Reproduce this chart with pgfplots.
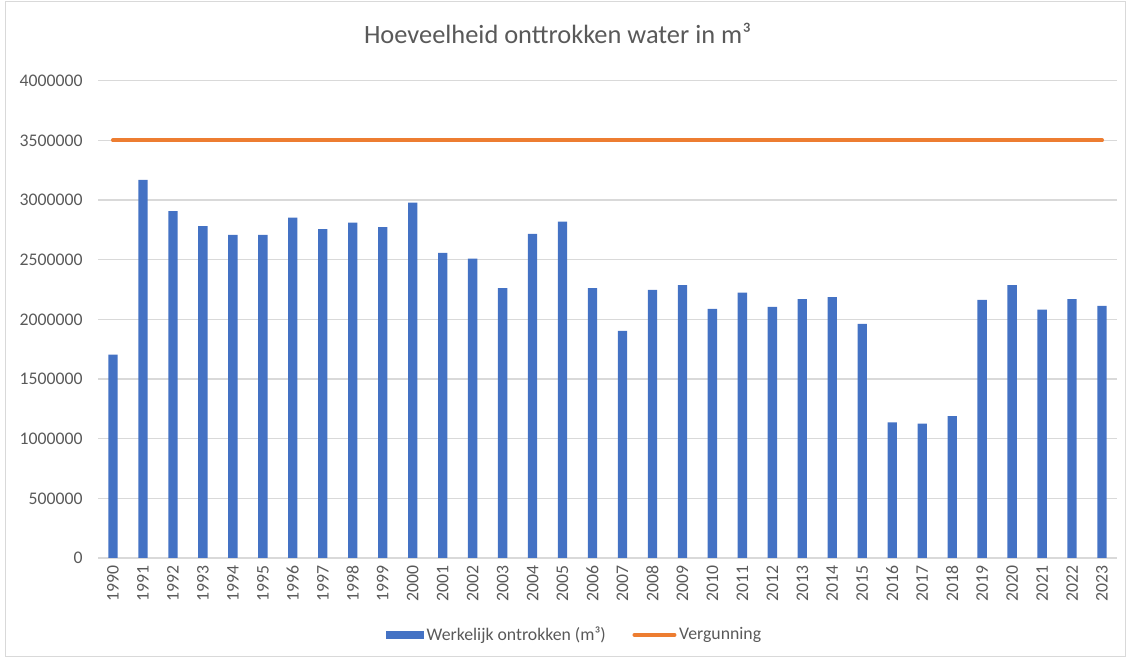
\documentclass[border=0pt]{standalone}
\usepackage{pgfplots}
\pgfplotsset{compat=1.18}
\usepackage{fontspec}
\setmainfont{Carlito}
\definecolor{xblue}{HTML}{4472C4}
\definecolor{xorange}{HTML}{ED7D31}
\definecolor{xgrid}{HTML}{D9D9D9}
\definecolor{xtext}{HTML}{595959}
\begin{document}
\begin{tikzpicture}
\path[use as bounding box] (0pt,0pt) rectangle (845.25pt,494.25pt);
\draw[xgrid, line width=0.75pt] (3.75pt,1.5pt) rectangle (843.75pt,492.75pt);
\begin{axis}[
  at={(73.5pt,75.75pt)}, anchor=south west,
  scale only axis, width=764.25pt, height=358pt,
  xmin=-0.5, xmax=33.5, ymin=0, ymax=4000000,
  ytick={0,500000,1000000,1500000,2000000,2500000,3000000,3500000,4000000},
  scaled y ticks=false,
  /pgf/number format/fixed, /pgf/number format/1000 sep={}, /pgf/number format/assume math mode=true,
  xtick={0,...,33},
  xticklabels={1990,1991,1992,1993,1994,1995,1996,1997,1998,1999,2000,2001,2002,2003,2004,2005,2006,2007,2008,2009,2010,2011,2012,2013,2014,2015,2016,2017,2018,2019,2020,2021,2022,2023},
  xticklabel style={rotate=90, anchor=east, font=\fontsize{13.3}{14}\selectfont, text=xtext},
  yticklabel style={font=\fontsize{13.3}{14}\selectfont, text=xtext},
  tick style={draw=none},
  axis line style={draw=none},
  ymajorgrids, grid style={xgrid, line width=0.9pt},
  xtick pos=bottom, ytick pos=left,
  yticklabel shift=8pt, xticklabel shift=2pt,
  title={Hoeveelheid onttrokken water in m³},
  title style={at={(0.451,1.082)}, anchor=center, font=\fontsize{19.8}{22}\selectfont, text=xtext},
  legend columns=2,
  legend style={at={(0.468,-0.161)}, anchor=center, draw=none, fill=none,
    font=\fontsize{13.3}{14}\selectfont, text=xtext,
    /tikz/every even column/.append style={column sep=18pt}},
]
\addplot[ybar, bar width=7pt, fill=xblue, draw=none,
  legend image code/.code={\fill[xblue] (0pt,-3pt) rectangle (28.5pt,3pt);}]
 coordinates {
(0,1705000) (1,3168000) (2,2906000) (3,2781000) (4,2708000) (5,2708000)
(6,2853000) (7,2755000) (8,2811000) (9,2772000) (10,2978000) (11,2557000)
(12,2509000) (13,2261000) (14,2716000) (15,2819000) (16,2261000) (17,1904000)
(18,2247000) (19,2286000) (20,2088000) (21,2224000) (22,2105000) (23,2169000)
(24,2186000) (25,1962000) (26,1136000) (27,1127000) (28,1189000) (29,2163000)
(30,2286000) (31,2082000) (32,2169000) (33,2113000)
};
\addlegendentry{Werkelijk ontrokken (m³)}
\addplot[xorange, line width=3pt, line cap=round, mark=none,
  legend image code/.code={\draw[xorange, line width=3pt, line cap=round] (0pt,0pt) -- (30pt,0pt);}]
 coordinates {(0,3500000) (33,3500000)};
\addlegendentry{Vergunning}
\end{axis}
\end{tikzpicture}
\end{document}
